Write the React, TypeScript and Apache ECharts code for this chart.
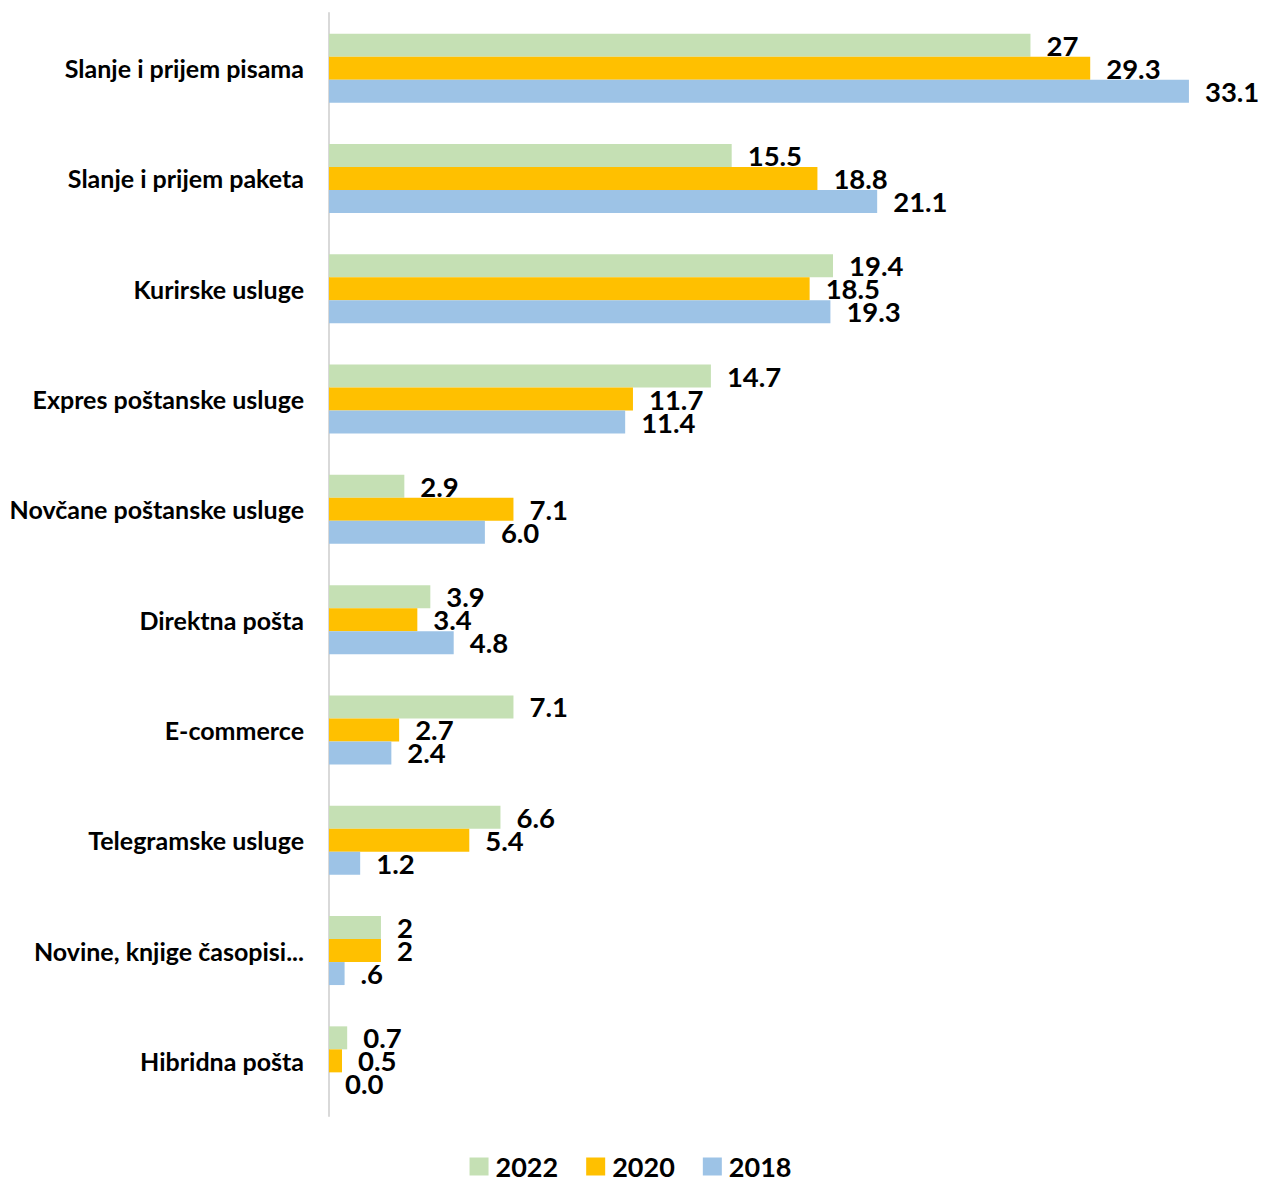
import React, { useEffect, useRef } from "react";
import * as echarts from "echarts";

const categories = [
  "Slanje i prijem pisama",
  "Slanje i prijem paketa",
  "Kurirske usluge",
  "Expres poštanske usluge",
  "Novčane poštanske usluge",
  "Direktna pošta",
  "E-commerce",
  "Telegramske usluge",
  "Novine, knjige časopisi...",
  "Hibridna pošta",
];

const values2022 = [27, 15.5, 19.4, 14.7, 2.9, 3.9, 7.1, 6.6, 2, 0.7];
const values2020 = [29.3, 18.8, 18.5, 11.7, 7.1, 3.4, 2.7, 5.4, 2, 0.5];
const values2018 = [33.1, 21.1, 19.3, 11.4, 6.0, 4.8, 2.4, 1.2, 0.6, 0.0];

const labels2022 = ["27", "15.5", "19.4", "14.7", "2.9", "3.9", "7.1", "6.6", "2", "0.7"];
const labels2020 = ["29.3", "18.8", "18.5", "11.7", "7.1", "3.4", "2.7", "5.4", "2", "0.5"];
const labels2018 = ["33.1", "21.1", "19.3", "11.4", "6.0", "4.8", "2.4", "1.2", ".6", "0.0"];

const seriesNames = ["2022", "2020", "2018"];
const colors = ["#C5E0B4", "#FFC000", "#9DC3E6"];

const FONT = "Lato, 'Open Sans', sans-serif";

export default function App() {
  const ref = useRef<HTMLDivElement>(null);
  useEffect(() => {
    if (!ref.current) return;
    const chart = echarts.init(ref.current, undefined, { renderer: "svg" });
    const mk = (name: string, data: number[], labels: string[], color: string) => ({
      name,
      type: "bar",
      data,
      barWidth: 23,
      barGap: "0%",
      itemStyle: { color },
      label: {
        show: true,
        position: "right",
        distance: 16,
        formatter: (p: any) => labels[p.dataIndex],
        color: "#000",
        fontFamily: FONT,
        fontWeight: "bold",
        fontSize: 27.5,
      },
    });
    chart.setOption({
      animation: false,
      color: colors,
      grid: { left: 329, top: 13, width: 909.3, height: 1103, containLabel: false },
      legend: {
        top: 1148,
        left: "center",
        itemWidth: 19,
        itemHeight: 18,
        itemGap: 28,
        icon: "rect",
        textStyle: {
          fontFamily: FONT,
          fontWeight: "bold",
          fontSize: 27,
          color: "#000",
          padding: [0, 0, 0, 2],
        },
        data: seriesNames,
      },
      xAxis: {
        type: "value",
        min: 0,
        max: 35,
        show: false,
        splitLine: { show: false },
      },
      yAxis: {
        type: "category",
        inverse: true,
        data: categories,
        axisTick: { show: false },
        axisLine: { show: true, lineStyle: { color: "#D9D9D9", width: 2 } },
        axisLabel: {
          margin: 25,
          color: "#000",
          fontFamily: FONT,
          fontWeight: "bold",
          fontSize: 25,
        },
      },
      series: [
        mk(seriesNames[0], values2022, labels2022, colors[0]),
        mk(seriesNames[1], values2020, labels2020, colors[1]),
        mk(seriesNames[2], values2018, labels2018, colors[2]),
      ],
    });
    return () => chart.dispose();
  }, []);
  return (
    <div
      ref={ref}
      style={{ position: "absolute", left: 0, top: 0, width: 1261, height: 1184 }}
    />
  );
}
